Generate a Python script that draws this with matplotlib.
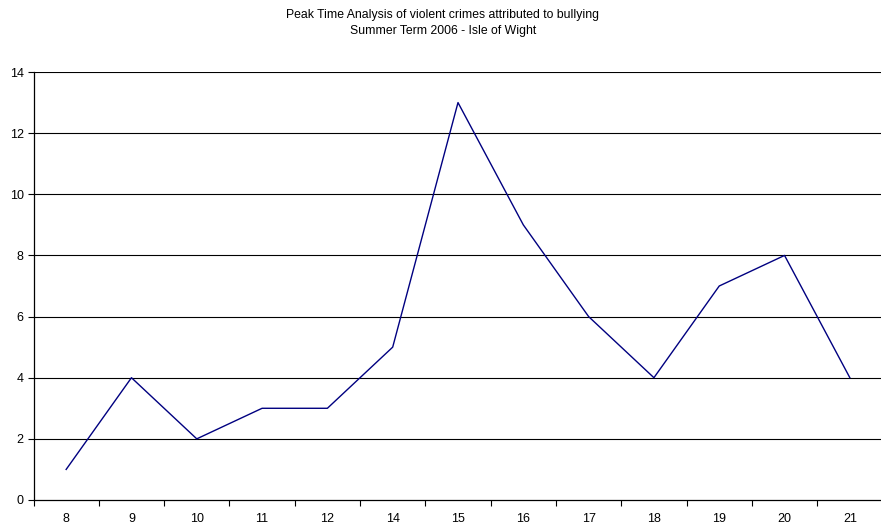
import numpy as np
import matplotlib.pyplot as plt
from matplotlib.ticker import FixedLocator, NullFormatter

plt.rcParams['font.family'] = ['Liberation Sans', 'DejaVu Sans']

hours = ['8', '9', '10', '11', '12', '14', '15', '16', '17', '18', '19', '20', '21']
incidents = [1, 4, 2, 3, 3, 5, 13, 9, 6, 4, 7, 8, 4]
y_ticks = [0, 2, 4, 6, 8, 10, 12, 14]

fig = plt.figure(figsize=(8.81, 5.26), dpi=100)
ax = fig.add_axes([33.5 / 881, 1 - 500 / 526, 849 / 881, 428 / 526])

x = np.arange(len(hours))
ax.plot(x, incidents, color='#000080', linewidth=1.0, zorder=3)

ax.set_xlim(-0.5, len(hours) - 0.5)
ax.set_ylim(0, 14)

# gridlines at every y tick, Excel style
for v in y_ticks[1:]:
    ax.axhline(v, color='black', linewidth=0.8, zorder=1)

ax.set_yticks(y_ticks)
ax.set_yticklabels([str(v) for v in y_ticks])

# category labels centred, tick marks between categories
ax.set_xticks(x)
ax.set_xticklabels(hours)
ax.xaxis.set_minor_locator(FixedLocator(np.arange(-0.5, len(hours), 1.0)))
ax.xaxis.set_minor_formatter(NullFormatter())
ax.tick_params(axis='x', which='major', length=0, pad=9, labelsize=9)
ax.tick_params(axis='x', which='minor', length=4, width=0.8, direction='out')
ax.tick_params(axis='y', which='major', length=4, width=0.8, direction='out', pad=3, labelsize=9)

for side in ('top', 'right'):
    ax.spines[side].set_visible(False)
for side in ('left', 'bottom'):
    ax.spines[side].set_linewidth(0.9)

fig.text(443 / 881, 1 - 15 / 526, 'Peak Time Analysis of violent crimes attributed to bullying',
         ha='center', va='center', fontsize=8.8)
fig.text(443 / 881, 1 - 31 / 526, 'Summer Term 2006 - Isle of Wight',
         ha='center', va='center', fontsize=8.8)

fig.savefig('out.png', dpi=100)
